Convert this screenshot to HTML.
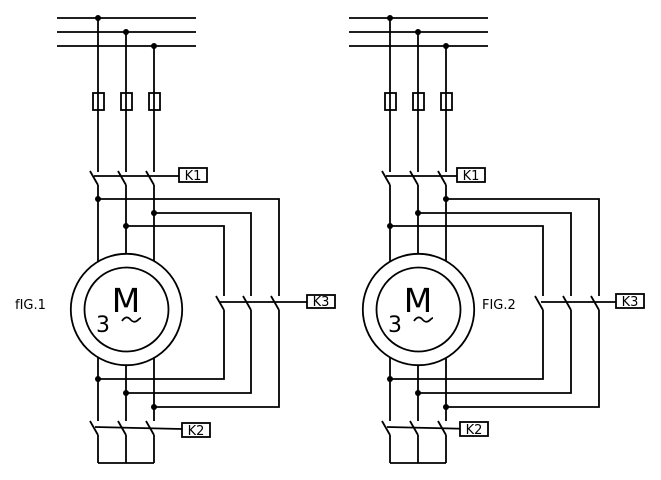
<!DOCTYPE html>
<html><head><meta charset="utf-8"><style>body{margin:0;background:#fff}svg{display:block}</style></head><body>
<svg width="661" height="480" viewBox="0 0 661 480" xmlns="http://www.w3.org/2000/svg" font-family="'DejaVu Sans','Liberation Sans',sans-serif">
<defs>
<g id="fig" stroke="#000" stroke-width="1.8" fill="none">
  <line x1="57" y1="18" x2="196" y2="18"/>
  <line x1="57" y1="32" x2="196" y2="32"/>
  <line x1="57" y1="46" x2="196" y2="46"/>
  <line x1="98" y1="18" x2="98" y2="172"/>
  <line x1="126" y1="32" x2="126" y2="172"/>
  <line x1="154" y1="46" x2="154" y2="172"/>
  <rect x="93" y="93" width="11" height="17" fill="#fff"/>
  <rect x="121" y="93" width="11" height="17" fill="#fff"/>
  <rect x="149" y="93" width="11" height="17" fill="#fff"/>
  <line x1="98" y1="93" x2="98" y2="110"/><line x1="126" y1="93" x2="126" y2="110"/><line x1="154" y1="93" x2="154" y2="110"/>
  <line x1="90" y1="171" x2="98" y2="185"/><line x1="118" y1="171" x2="126" y2="185"/><line x1="146" y1="171" x2="154" y2="185"/>
  <line x1="94" y1="176" x2="179" y2="176"/>
  <line x1="98" y1="185" x2="98" y2="421"/>
  <line x1="126" y1="185" x2="126" y2="421"/>
  <line x1="154" y1="185" x2="154" y2="421"/>
  <circle cx="126.5" cy="309.5" r="55.7" fill="#fff"/>
  <circle cx="126.5" cy="309.5" r="42" fill="#fff"/>
  <path d="M117 322 q4 -6 8 -2 q4 5 8 1 q2 -2 3 -2" transform="translate(5,-1)"/>
  <line x1="90" y1="421" x2="98" y2="435"/><line x1="118" y1="421" x2="126" y2="435"/><line x1="146" y1="421" x2="154" y2="435"/>
  <line x1="95" y1="427" x2="182" y2="429"/>
  <line x1="98" y1="435" x2="98" y2="463"/><line x1="126" y1="435" x2="126" y2="463"/><line x1="154" y1="435" x2="154" y2="463"/>
  <line x1="98" y1="463" x2="154" y2="463"/>
</g>
</defs>

<use href="#fig"/>
<g stroke="#000" stroke-width="1.8" fill="none">
  <polyline points="98,199 279,199 279,296"/>
  <polyline points="154,213 251,213 251,296"/>
  <polyline points="126,226 224,226 224,296"/>
  <line x1="216" y1="296" x2="224" y2="310"/><line x1="243" y1="296" x2="251" y2="310"/><line x1="271" y1="296" x2="279" y2="310"/>
  <line x1="220" y1="302" x2="307" y2="302"/>
  <polyline points="224,310 224,379 98,379"/>
  <polyline points="251,310 251,393 126,393"/>
  <polyline points="279,310 279,407 154,407"/>
  <rect x="179" y="168" width="28" height="14" fill="#fff"/>
  <rect x="307" y="295" width="28" height="13" fill="#fff"/>
  <rect x="182" y="423" width="28" height="14" fill="#fff"/>
</g>
<g fill="#000">
  <circle cx="98" cy="18" r="3"/><circle cx="126" cy="32" r="3"/><circle cx="154" cy="46" r="3"/>
  <circle cx="98" cy="199" r="3"/><circle cx="154" cy="213" r="3"/><circle cx="126" cy="226" r="3"/>
  <circle cx="98" cy="379" r="3"/><circle cx="126" cy="393" r="3"/><circle cx="154" cy="407" r="3"/>
</g>
<g font-size="13" text-anchor="middle">
  <text x="193" y="180">K1</text><text x="321" y="306">K3</text><text x="196" y="435">K2</text>
</g>
<text x="15" y="309" font-size="13">fIG.1</text>
<text x="126" y="312" font-size="33" text-anchor="middle">M</text>
<text x="96" y="332" font-size="22">3</text>

<use href="#fig" transform="translate(292,0)"/>
<g stroke="#000" stroke-width="1.8" fill="none">
  <polyline points="446,199 599,199 599,296"/>
  <polyline points="418,213 571,213 571,296"/>
  <polyline points="390,226 543,226 543,296"/>
  <line x1="535" y1="296" x2="543" y2="310"/><line x1="563" y1="296" x2="571" y2="310"/><line x1="591" y1="296" x2="599" y2="310"/>
  <line x1="541" y1="302" x2="616" y2="302"/>
  <polyline points="543,310 543,379 390,379"/>
  <polyline points="571,310 571,393 418,393"/>
  <polyline points="599,310 599,407 446,407"/>
  <rect x="457" y="168" width="28" height="14" fill="#fff"/>
  <rect x="616" y="294" width="28" height="14" fill="#fff"/>
  <rect x="460" y="422" width="28" height="14" fill="#fff"/>
</g>
<g fill="#000">
  <circle cx="390" cy="18" r="3"/><circle cx="418" cy="32" r="3"/><circle cx="446" cy="46" r="3"/>
  <circle cx="446" cy="199" r="3"/><circle cx="418" cy="213" r="3"/><circle cx="390" cy="226" r="3"/>
  <circle cx="390" cy="379" r="3"/><circle cx="418" cy="393" r="3"/><circle cx="446" cy="407" r="3"/>
</g>
<g font-size="13" text-anchor="middle">
  <text x="471" y="180">K1</text><text x="630" y="306">K3</text><text x="474" y="434">K2</text>
</g>
<text x="482" y="309" font-size="13">FIG.2</text>
<text x="418" y="312" font-size="33" text-anchor="middle">M</text>
<text x="388" y="332" font-size="22">3</text>
</svg>
</body></html>
